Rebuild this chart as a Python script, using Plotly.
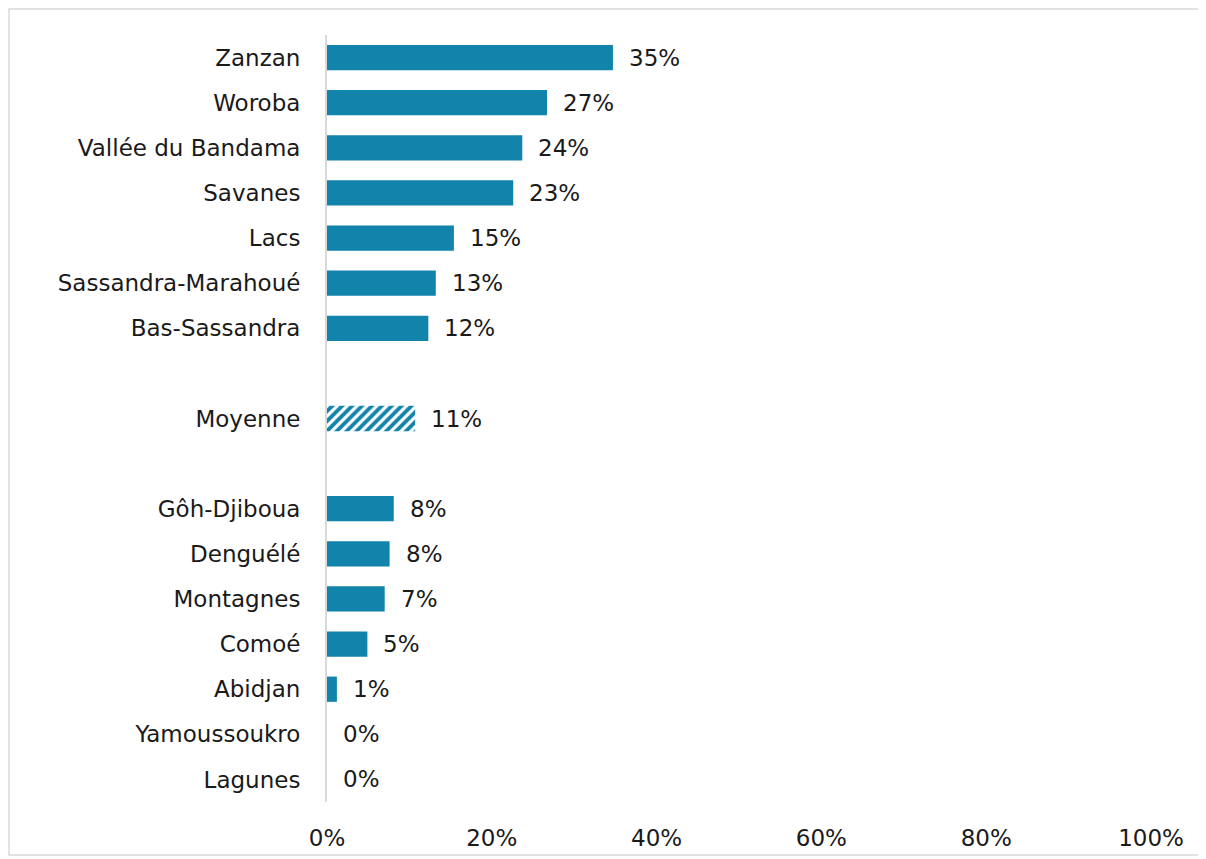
import plotly.graph_objects as go

categories = ["Zanzan", "Woroba", "Vallée du Bandama", "Savanes", "Lacs",
              "Sassandra-Marahoué", "Bas-Sassandra", " ", "Moyenne", "  ",
              "Gôh-Djiboua", "Denguélé", "Montagnes", "Comoé", "Abidjan",
              "Yamoussoukro", "Lagunes"]
values = [34.7, 26.7, 23.7, 22.6, 15.4, 13.2, 12.3, None, 10.7, None,
          8.1, 7.6, 7.0, 4.9, 1.2, 0, 0]
labels = ["35%", "27%", "24%", "23%", "15%", "13%", "12%", "", "11%", "",
          "8%", "8%", "7%", "5%", "1%", "0%", "0%"]
x_ticks = [0, 20, 40, 60, 80, 100]
x_tick_labels = ["0%", "20%", "40%", "60%", "80%", "100%"]

BLUE = "#1283AA"
FONT = "DejaVu Sans"
FS = 23

solid_cats = [c for c, v in zip(categories, values) if v is not None and c != "Moyenne"]
solid_vals = [v for c, v in zip(categories, values) if v is not None and c != "Moyenne"]
avg_idx = categories.index("Moyenne")

fig = go.Figure()
fig.add_trace(go.Bar(y=solid_cats, x=solid_vals, orientation="h",
                     marker=dict(color=BLUE, line=dict(width=0)), width=0.56,
                     hoverinfo="skip"))
fig.add_trace(go.Bar(y=[categories[avg_idx]], x=[values[avg_idx]], orientation="h",
                     marker=dict(color="white", line=dict(width=0),
                                 pattern=dict(shape="/", fgcolor=BLUE, bgcolor="white",
                                              fgopacity=1, size=7, solidity=0.55)),
                     width=0.56, hoverinfo="skip"))

for c, v, t in zip(categories, values, labels):
    if v is None:
        continue
    fig.add_annotation(x=v, y=c, text=t, showarrow=False, xanchor="left",
                       xshift=14, font=dict(family=FONT, size=FS, color="#1a1a1a"))

ML, MR, MT, MB = 319, 63, 27, 65
W_PLOT = 1206 - ML - MR
H_PLOT = 859 - MT - MB
# outer border
fig.add_shape(type="rect", xref="paper", yref="paper",
              x0=(1 - ML) / W_PLOT, x1=(1192 - ML) / W_PLOT,
              y0=(859 - MB - 847) / H_PLOT, y1=(859 - MB - 1) / H_PLOT,
              line=dict(color="#d9d9d9", width=1.5), fillcolor="rgba(0,0,0,0)")

fig.update_layout(
    width=1206, height=859,
    margin=dict(l=ML, r=MR, t=MT, b=MB),
    paper_bgcolor="white", plot_bgcolor="white",
    showlegend=False, barmode="overlay",
    font=dict(family=FONT, size=FS, color="#1a1a1a"),
)
fig.update_xaxes(range=[0, 100], tickvals=x_ticks, ticktext=x_tick_labels,
                 showgrid=False, zeroline=False, showline=False,
                 ticklabelstandoff=20, tickfont=dict(size=FS))
fig.update_yaxes(categoryorder="array", categoryarray=categories,
                 autorange="reversed", showgrid=False, zeroline=False,
                 showline=True, linecolor="#d9d9d9", linewidth=2,
                 ticklabelstandoff=20, tickfont=dict(size=FS))

fig.write_html("out.html")
